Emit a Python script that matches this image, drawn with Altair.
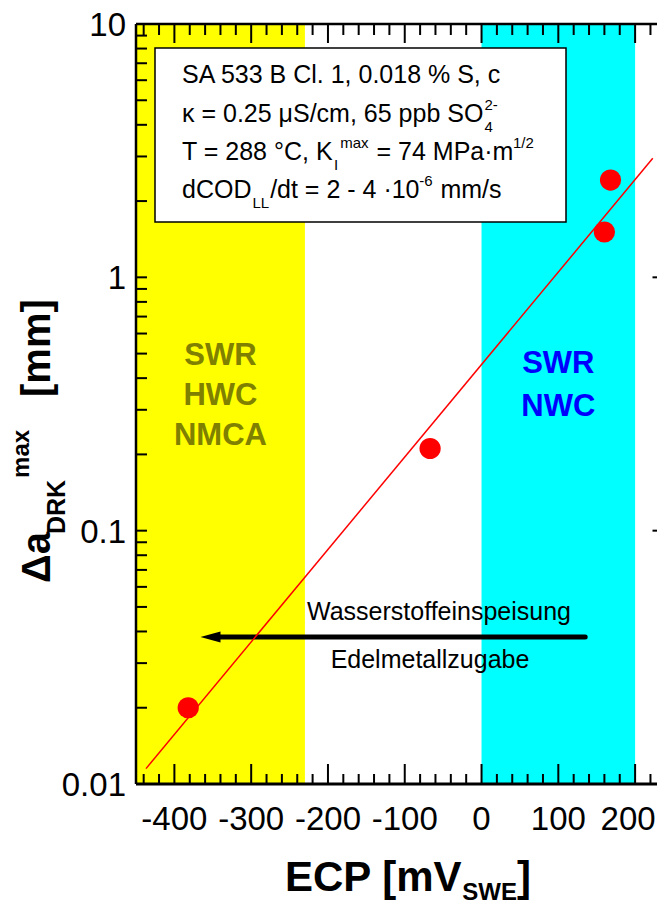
import altair as alt
import pandas as pd

# ---------------- data ----------------
ECP = [-382, -67, 160, 168]
DA = [0.020, 0.211, 1.51, 2.42]

FIT_ECP = [-437, 223]
FIT_DA = [0.0115, 2.95]

ZONE_START = [-450, 0]
ZONE_END = [-230, 200]
ZONE_COLOR = ["#ffff00", "#00ffff"]

X_MAJOR = [-400, -300, -200, -100, 0, 100, 200]
X_LABELS = ["-400", "-300", "-200", "-100", "0", "100", "200"]
X_MINOR = [-440, -420, -380, -360, -340, -320, -280, -260, -240, -220,
           -180, -160, -140, -120, -80, -60, -40, -20, 20, 40, 60, 80,
           120, 140, 160, 180, 220, 240]
Y_MAJOR = [0.01, 0.1, 1, 10]
Y_LABELS = ["0.01", "0.1", "1", "10"]
Y_MINOR = [0.02, 0.03, 0.04, 0.05, 0.06, 0.07, 0.08, 0.09,
           0.2, 0.3, 0.4, 0.5, 0.6, 0.7, 0.8, 0.9,
           2, 3, 4, 5, 6, 7, 8, 9]

ARROW_X = [135, -345]
ARROW_HEAD_X = [-353]
ARROW_Y = [0.038]

# ---------------- layout ----------------
W, H = 521, 760
XR = 537.5
FONT = "Liberation Sans"

XS = alt.Scale(domain=[-450, 250], range=[0, XR], nice=False, zero=False)
YS = alt.Scale(type="log", domain=[0.01, 10], nice=False)

REG = {' ': 278, '%': 889, ',': 278, '-': 333, '.': 278, '/': 278, '=': 584,
       '°': 400, '·': 278, 'A': 667, 'B': 667, 'C': 722, 'D': 722, 'E': 667,
       'I': 278, 'K': 667, 'L': 556, 'M': 833, 'O': 778, 'P': 667, 'S': 667,
       'T': 611, 'a': 556, 'b': 556, 'c': 500, 'd': 556, 'e': 556, 'm': 833,
       'p': 556, 's': 500, 't': 278, 'x': 500, 'l': 222, 'κ': 500, 'μ': 577}
BOLD = {' ': 278, '[': 333, ']': 333, 'E': 667, 'C': 722, 'P': 667, 'm': 889,
        'V': 667, 'S': 667, 'W': 944, 'D': 722, 'R': 722, 'K': 722, 'Δ': 667,
        'a': 556, 'x': 556}


def tw(s, size, bold=False):
    t = BOLD if bold else REG
    return sum(t.get(c, 556) for c in s) * size / 1000.0


one = pd.DataFrame({"k": [0]})


def txt(s, x, y, size, bold=False, color="black", align="left", angle=None,
        baseline="alphabetic"):
    kw = dict(text=s, font=FONT, fontSize=size,
              fontWeight="bold" if bold else "normal", color=color,
              align=align, baseline=baseline)
    if angle is not None:
        kw["angle"] = angle
    return alt.Chart(one).mark_text(**kw).encode(x=alt.value(x), y=alt.value(y))


def rich(parts, x, y, size=25, small=15, sub=10, sup=-12):
    out = []
    sub_x = x
    for s, kind in parts:
        # SVG drops leading spaces: advance manually
        lead = len(s) - len(s.lstrip(" "))
        if lead:
            x += tw(" " * lead, size if kind == "n" else small)
            s = s.lstrip(" ")
        if kind == "n":
            out.append(txt(s, x, y, size))
            x += tw(s, size)
        elif kind == "sub":
            sub_x = x + 1
            out.append(txt(s, sub_x, y + sub, small))
            x = sub_x + tw(s, small) + 1
        elif kind == "sup":
            out.append(txt(s, x + 1, y + sup, small))
            x += tw(s, small) + 2
        elif kind == "supst":
            out.append(txt(s, sub_x, y + sup, small))
            x = max(x, sub_x + tw(s, small))
    return out


layers = []

# colored zones
zones = pd.DataFrame({"start": ZONE_START, "end": ZONE_END, "color": ZONE_COLOR})
layers.append(
    alt.Chart(zones).mark_rect().encode(
        x=alt.X("start:Q", scale=XS, axis=None), x2="end:Q",
        y=alt.value(0), y2=alt.value(H),
        color=alt.Color("color:N", scale=None))
)

# ticks
xmaj = pd.DataFrame({"v": X_MAJOR})
xmin = pd.DataFrame({"v": X_MINOR})
ymaj = pd.DataFrame({"v": Y_MAJOR})
ymin = pd.DataFrame({"v": Y_MINOR})
for df, ln in [(xmaj, 20), (xmin, 10)]:
    layers.append(alt.Chart(df).mark_rule(color="black", strokeWidth=2).encode(
        x=alt.X("v:Q", scale=XS, axis=None), y=alt.value(H), y2=alt.value(H - ln)))
for df, ln in [(xmaj, 19), (xmin, 11)]:
    layers.append(alt.Chart(df).mark_rule(color="black", strokeWidth=2).encode(
        x=alt.X("v:Q", scale=XS, axis=None), y=alt.value(0), y2=alt.value(ln)))
for df, ln in [(ymaj, 11), (ymin, 11)]:
    layers.append(alt.Chart(df).mark_rule(color="black", strokeWidth=2).encode(
        y=alt.Y("v:Q", scale=YS, axis=None), x=alt.value(0), x2=alt.value(ln)))
for df, ln in [(ymaj, 21), (ymin, 11)]:
    layers.append(alt.Chart(df).mark_rule(color="black", strokeWidth=2).encode(
        y=alt.Y("v:Q", scale=YS, axis=None), x=alt.value(XR), x2=alt.value(XR - ln)))

# annotation box
layers.append(alt.Chart(one).mark_rect(fill="white", stroke="black", strokeWidth=1.5).encode(
    x=alt.value(19), x2=alt.value(430), y=alt.value(24), y2=alt.value(198)))
layers += rich([("SA 533 B Cl. 1, 0.018 % S, c", "n")], 46, 59)
layers += rich([("κ = 0.25 μS/cm, 65 ppb SO", "n"), ("4", "sub"), ("2-", "supst")], 46, 98)
layers += rich([("T = 288 °C, K", "n"), ("I", "sub"), ("max", "sup"),
                (" = 74 MPa·m", "n"), ("1/2", "sup")], 46, 136)
layers += rich([("dCOD", "n"), ("LL", "sub"), ("/dt = 2 - 4 ·10", "n"),
                ("-6", "sup"), (" mm/s", "n")], 46, 174)

# zone labels
for s, yy in [("SWR", 341), ("HWC", 381), ("NMCA", 421)]:
    layers.append(alt.Chart(pd.DataFrame({"x": [-340]})).mark_text(
        text=s, font=FONT, fontSize=31, fontWeight="bold", color="#808000",
        align="center", baseline="alphabetic").encode(
        x=alt.X("x:Q", scale=XS, axis=None), y=alt.value(yy)))
for s, yy in [("SWR", 349), ("NWC", 392)]:
    layers.append(alt.Chart(pd.DataFrame({"x": [100]})).mark_text(
        text=s, font=FONT, fontSize=31, fontWeight="bold", color="#0000ff",
        align="center", baseline="alphabetic").encode(
        x=alt.X("x:Q", scale=XS, axis=None), y=alt.value(yy)))

# arrow
arrow = pd.DataFrame({"x1": [ARROW_X[0]], "x2": [ARROW_X[1]], "y": ARROW_Y})
layers.append(alt.Chart(arrow).mark_rule(color="black", strokeWidth=5, strokeCap="round").encode(
    x=alt.X("x1:Q", scale=XS, axis=None), x2="x2:Q",
    y=alt.Y("y:Q", scale=YS, axis=None)))
head = pd.DataFrame({"x": ARROW_HEAD_X, "y": ARROW_Y})
layers.append(alt.Chart(head).mark_point(
    shape="M -1 0 L 1 -0.55 L 1 0.55 Z", size=400, filled=True, color="black",
    opacity=1, strokeWidth=0).encode(
    x=alt.X("x:Q", scale=XS, axis=None), y=alt.Y("y:Q", scale=YS, axis=None)))
layers.append(txt("Wasserstoffeinspeisung", 303, 596, 25, align="center"))
layers.append(txt("Edelmetallzugabe", 294, 644, 25, align="center"))

# fit line
fit = pd.DataFrame({"ecp": FIT_ECP, "da": FIT_DA})
layers.append(alt.Chart(fit).mark_line(color="#ff0000", strokeWidth=1.5).encode(
    x=alt.X("ecp:Q", scale=XS, axis=None), y=alt.Y("da:Q", scale=YS, axis=None)))

# points
pts = pd.DataFrame({"ecp": ECP, "da": DA})
layers.append(alt.Chart(pts).mark_circle(size=450, color="#ff0000", opacity=1).encode(
    x=alt.X("ecp:Q", scale=XS, axis=None), y=alt.Y("da:Q", scale=YS, axis=None)))

# frame
layers.append(alt.Chart(one).mark_rule(color="black", strokeWidth=2.5).encode(
    x=alt.value(0), y=alt.value(0), y2=alt.value(H)))
layers.append(alt.Chart(one).mark_rule(color="black", strokeWidth=2.5).encode(
    x=alt.value(XR), y=alt.value(0), y2=alt.value(H)))
layers.append(alt.Chart(one).mark_rule(color="black", strokeWidth=2.5).encode(
    y=alt.value(0), x=alt.value(0), x2=alt.value(XR)))
layers.append(alt.Chart(one).mark_rule(color="black", strokeWidth=3).encode(
    y=alt.value(H), x=alt.value(0), x2=alt.value(XR)))

# tick labels (last one nudged left so it stays inside the page)
xl = pd.DataFrame({"v": X_MAJOR, "t": X_LABELS})
layers.append(alt.Chart(xl.iloc[:-1]).mark_text(font=FONT, fontSize=33, align="center",
                                                baseline="alphabetic", color="black").encode(
    x=alt.X("v:Q", scale=XS, axis=None), y=alt.value(806), text="t:N"))
layers.append(alt.Chart(xl.iloc[-1:]).mark_text(font=FONT, fontSize=33, align="center",
                                                baseline="alphabetic", color="black",
                                                dx=-7).encode(
    x=alt.X("v:Q", scale=XS, axis=None), y=alt.value(806), text="t:N"))
yl = pd.DataFrame({"v": Y_MAJOR, "t": Y_LABELS})
layers.append(alt.Chart(yl).mark_text(font=FONT, fontSize=33, align="right",
                                      baseline="middle", color="black", dy=2).encode(
    y=alt.Y("v:Q", scale=YS, axis=None), x=alt.value(-10), text="t:N"))

# axis titles
xt = 149
layers.append(txt("ECP [mV", xt, 867, 42, bold=True))
xt += tw("ECP [mV", 42, True)
layers.append(txt("SWE", xt, 876, 24, bold=True))
xt += tw("SWE", 24, True)
layers.append(txt("]", xt, 867, 42, bold=True))

yt = 559
layers.append(txt("Δa", -86, yt, 40, bold=True, angle=270))
yt -= tw("Δa", 40, True)
layers.append(txt("DRK", -71, yt, 25, bold=True, angle=270))
yt -= tw("DRK", 25, True)
layers.append(txt("max", -107, yt - 2, 24, bold=True, angle=270))
layers.append(txt("[mm]", -86, 373, 40, bold=True, angle=270))

chart = alt.layer(*layers).properties(
    width=W, height=H,
    padding={"left": 128, "top": 16, "right": 0, "bottom": 123},
    autosize=alt.AutoSizeParams(type="none"),
    background="white",
).configure_view(stroke=None)

chart.save("out.html", embed_options={"renderer": "svg", "actions": False})
